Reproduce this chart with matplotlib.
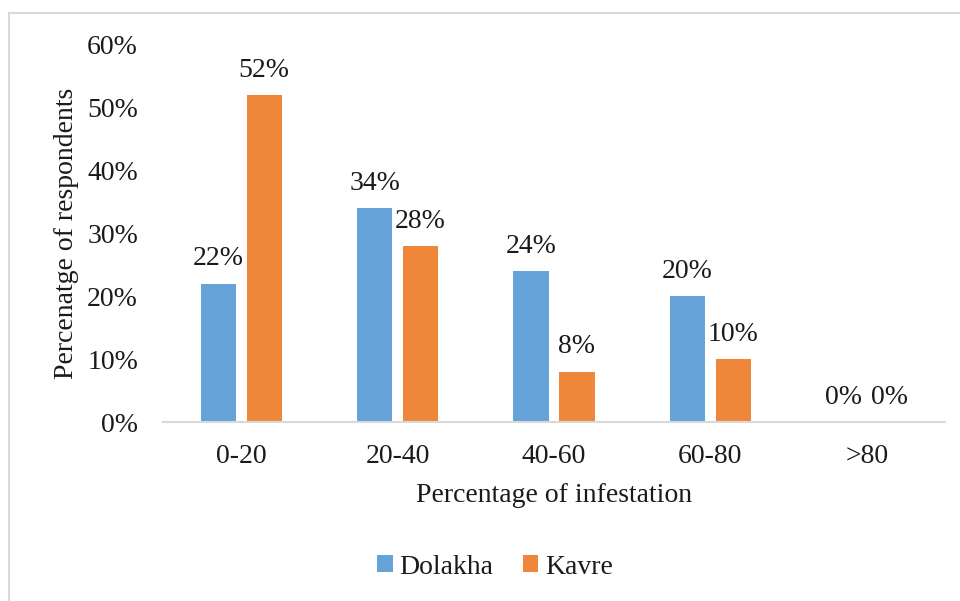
import matplotlib
matplotlib.use("Agg")
import matplotlib.pyplot as plt
import numpy as np
from matplotlib.patches import Rectangle

categories = ["0-20", "20-40", "40-60", "60-80", ">80"]
dolakha = [22, 34, 24, 20, 0]
kavre = [52, 28, 8, 10, 0]
yticks = [0, 10, 20, 30, 40, 50, 60]

blue = "#66A3D9"
orange = "#EE8739"
txt = "#1a1a1a"
fs = 20

plt.rcParams['font.family'] = ['Liberation Serif', 'DejaVu Serif']

fig = plt.figure(figsize=(9.6, 6.01), dpi=100)
ax = fig.add_axes([163/960, 179/601, 782/960, 377/601])

x = np.arange(len(categories))
w = 0.225
off = 0.147
b1 = ax.bar(x - off, dolakha, w, color=blue, label="Dolakha")
b2 = ax.bar(x + off, kavre, w, color=orange, label="Kavre")

for bars, vals in ((b1, dolakha), (b2, kavre)):
    for rect, v in zip(bars, vals):
        ax.annotate(f"{v}%", (rect.get_x() + rect.get_width()/2, v),
                    xytext=(0, 9), textcoords="offset points",
                    ha="center", va="bottom", fontsize=fs, color=txt)

ax.set_xlim(-0.5, len(categories) - 0.5)
ax.set_ylim(0, 60)
ax.set_yticks(yticks)
ax.set_yticklabels([f"{t}%" for t in yticks], fontsize=fs, color=txt)
ax.set_xticks(x)
ax.set_xticklabels(categories, fontsize=fs, color=txt)
ax.tick_params(axis="both", length=0)
ax.tick_params(axis="y", pad=18)
ax.tick_params(axis="x", pad=16)
for s in ("top", "right", "left"):
    ax.spines[s].set_visible(False)
ax.spines["bottom"].set_color("#D9D9D9")
ax.spines["bottom"].set_linewidth(1.5)

ax.set_xlabel("Percentage of infestation", fontsize=fs, color=txt, labelpad=10)
ax.set_ylabel("Percenatge of respondents", fontsize=fs, color=txt, labelpad=6)

leg = fig.legend(handles=[b1, b2], labels=["Dolakha", "Kavre"], loc="center",
                 bbox_to_anchor=(495/960, 1 - 567/601), ncol=2, frameon=False,
                 fontsize=fs, handlelength=0.55, handleheight=0.55,
                 handletextpad=0.25, columnspacing=1.05)
for t in leg.get_texts():
    t.set_color(txt)

fig.patches.append(Rectangle((8.5/960, -0.05), 1.2, 1 - 13.5/601 + 0.05,
                             transform=fig.transFigure, fill=False,
                             edgecolor="#D9D9D9", linewidth=1.5))

fig.savefig("out.png", dpi=100)
